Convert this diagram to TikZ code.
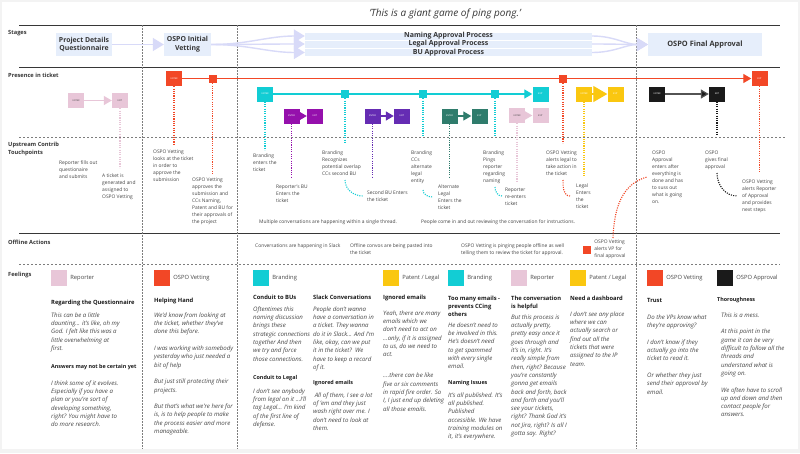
\documentclass[tikz,border=0pt]{standalone}
\usepackage{fontspec}
\setmainfont{Open Sans}
\usepackage{tikz}
\usetikzlibrary{arrows.meta,positioning,calc}
\definecolor{repPink}{RGB}{232,198,216}
\definecolor{vetRed}{RGB}{242,71,38}
\definecolor{brTeal}{RGB}{18,205,212}
\definecolor{buMagenta}{RGB}{149,16,172}
\definecolor{buViolet}{RGB}{101,44,179}
\definecolor{lgGreen}{RGB}{47,124,108}
\definecolor{patYellow}{RGB}{250,199,16}
\definecolor{apBlack}{RGB}{26,26,26}
\definecolor{stageBlue}{RGB}{230,238,251}
\definecolor{stageArrow}{RGB}{216,218,248}
\definecolor{gridGray}{RGB}{125,125,125}
\definecolor{lineDark}{RGB}{55,55,55}
\definecolor{txtGray}{RGB}{70,70,70}
\definecolor{pageGray}{RGB}{243,243,243}

\begin{document}
\begin{tikzpicture}[x=1pt,y=-1pt,
        every node/.style={inner sep=0pt},
        rowlabel/.style={anchor=west, align=left, font=\fontsize{5.7}{7.5}\selectfont\bfseries, text=lineDark},
        stagebox/.style={fill=stageBlue, minimum height=23pt, align=center, font=\fontsize{6.9}{8.6}\selectfont\bfseries, text=lineDark},
        stagebar/.style={fill=stageBlue, minimum height=6.5pt, font=\fontsize{7}{7}\selectfont\bfseries, text=lineDark},
        stagearrow/.style={-{Triangle[length=11pt,width=13pt]}, stageArrow, line width=1.4pt},
        gridsolid/.style={lineDark, line width=1pt},
        griddash/.style={gridGray, line width=0.7pt, dash pattern=on 2pt off 2pt},
        pbox/.style={fill=#1, minimum width=16pt, minimum height=15pt, text=white, font=\fontsize{2.3}{3}\selectfont},
        psq/.style={fill=#1, minimum size=8pt},
        pline/.style={#1, line width=1.2pt, -{Triangle[length=8pt,width=9pt]}},
        drop/.style={#1, line width=1.1pt, dash pattern=on 1.1pt off 1.2pt},
        touch/.style={anchor=north west, align=left, font=\fontsize{4.9}{7}\selectfont, text=txtGray},
        swatch/.style={fill=#1, minimum size=16pt},
        swlabel/.style={font=\fontsize{5.8}{7}\selectfont, text=txtGray},
        fhead/.style={anchor=north west, align=left, font=\fontsize{5.8}{8.3}\selectfont\bfseries, text=apBlack},
        fsub/.style={anchor=north west, font=\fontsize{5.4}{6}\selectfont\bfseries, text=apBlack},
        fbody/.style={anchor=north west, align=left, font=\fontsize{6.1}{8.3}\selectfont\itshape, text=txtGray}
    ]
        % page
        \useasboundingbox (0,0) rectangle (800,453);
        \fill[pageGray] (0,0) rectangle (800,453);
        \fill[white] (1.5,1.5) rectangle (797.5,449);

        \node[font=\fontsize{10}{12}\selectfont\itshape, text=lineDark] (title) at (445,14) {'This is a giant game of ping pong.'};

        % grid
        \draw[gridsolid] (19,25) -- (780,25);
        \draw[gridsolid] (19,67) -- (780,67);
        \draw[griddash] (19,137) -- (785,137);
        \draw[gridsolid] (19,233) -- (780,233);
        \draw[griddash] (19,264) -- (780,264);
        \foreach \gx in {142,237,636}
            \draw[griddash, dash pattern=on 1.5pt off 1.5pt] (\gx,25) -- (\gx,449);

        \node[rowlabel] (lStages) at (8,33) {Stages};
        \node[rowlabel] (lPresence) at (8,75) {Presence in ticket};
        \node[rowlabel] (lTouch) at (8,149) {Upstream Contrib\\Touchpoints};
        \node[rowlabel] (lOffline) at (8,242) {Offline Actions};
        \node[rowlabel] (lFeel) at (8,275) {Feelings};

        % stages
        \node[stagebox, minimum width=56pt] (qst) at (84,44.5) {Project Details\\Questionnaire};
        \node[stagebox, minimum width=47pt] (ivet) at (187.5,44.5) {OSPO Initial\\Vetting};
        \node[stagebar, minimum width=287pt] (nap) at (448.5,36) {Naming Approval Process};
        \node[stagebar, minimum width=287pt] (lap) at (448.5,44) {Legal Approval Process};
        \node[stagebar, minimum width=287pt] (bap) at (448.5,52.5) {BU Approval Process};
        \node[stagebox, minimum width=114pt, font=\fontsize{7.4}{9}\selectfont\bfseries] (fin) at (705,44.5) {OSPO Final Approval};

        \draw[stagearrow] (qst) -- (ivet);
        \foreach \bar in {nap,lap,bap} {
            \draw[stagearrow] (ivet.east) to[out=0,in=180] (\bar.west);
            \draw[stagearrow] (\bar.east) to[out=0,in=180] (fin.west);
        }

        % presence in ticket
        \node[pbox=repPink, text=txtGray] (pEn1) at (76,100.5) {ENTER};
        \node[pbox=repPink, text=txtGray] (pEx1) at (120,100.5) {EXIT};
        \node[pbox=vetRed] (vEn) at (174,78.5) {ENTER};
        \node[pbox=vetRed] (vEx) at (759.5,78.5) {EXIT};
        \node[pbox=brTeal] (bEn) at (265,94) {ENTER};
        \node[pbox=brTeal] (bEx) at (540.5,94) {EXIT};
        \node[pbox=buMagenta] (mEn) at (291.5,116) {ENTER};
        \node[pbox=buMagenta] (mEx) at (315,116) {EXIT};
        \node[pbox=buViolet] (uEn) at (372.5,116) {ENTER};
        \node[pbox=buViolet] (uEx) at (402,116) {EXIT};
        \node[pbox=lgGreen] (gEn) at (449.5,116) {ENTER};
        \node[pbox=lgGreen] (gEx) at (479.5,116) {EXIT};
        \node[pbox=repPink, text=txtGray] (pEn2) at (517,115.5) {ENTER};
        \node[pbox=repPink, text=txtGray] (pEx2) at (540.5,115.5) {EXIT};
        \node[pbox=patYellow] (yEn) at (584,94) {ENTER};
        \node[pbox=patYellow] (yEx) at (615.5,94) {EXIT};
        \node[pbox=apBlack] (kEn) at (657,94) {ENTER};
        \node[pbox=apBlack] (kEx) at (717,94) {EXIT};

        \draw[pline=vetRed] (vEn) -- (vEx);
        \draw[pline=brTeal] (bEn) -- (bEx);
        \draw[pline=repPink] (pEn1) -- (pEx1);
        \draw[pline=buMagenta] (mEn) -- (mEx);
        \draw[pline=buViolet] (uEn) -- (uEx);
        \draw[pline=lgGreen] (gEn) -- (gEx);
        \draw[pline=repPink] (pEn2) -- (pEx2);
        \draw[pline=patYellow, -{Triangle[length=14pt,width=16pt]}] (yEn) -- (yEx);
        \draw[pline=apBlack!75, -{Triangle[length=8pt,width=9pt,fill=apBlack]}] (kEn) -- (kEx);

        \node[psq=vetRed] (vSq1) at (212.5,79) {};
        \node[psq=vetRed] (vSq2) at (563,79) {};
        \node[psq=brTeal] (bSq1) at (345,94) {};
        \node[psq=brTeal] (bSq2) at (423,94) {};
        \node[psq=brTeal] (bSq3) at (495,94) {};

        % drop lines
        \coordinate (dPink1) at (120,168);
        \coordinate (dVet1) at (174,144);
        \coordinate (dVet2) at (212.5,173);
        \coordinate (dBr1) at (265,150);
        \coordinate (dMag) at (291.5,178);
        \coordinate (dBr2) at (345,142);
        \coordinate (dVio) at (372.5,178);
        \coordinate (dBr3) at (423,137);
        \coordinate (dGrn) at (449.5,178);
        \coordinate (dBr4) at (495,137);
        \coordinate (dPink2) at (517,182);
        \coordinate (dVet3) at (563,143);
        \coordinate (dYel) at (584,177);
        \coordinate (dApp) at (717,135);
        \coordinate (dVet4) at (759.5,173);
        \draw[drop=repPink] (pEx1) -- (dPink1);
        \draw[drop=vetRed] (vEn) -- (dVet1);
        \draw[drop=vetRed] (vSq1) -- (dVet2);
        \draw[drop=brTeal] (bEn) -- (dBr1);
        \draw[drop=buMagenta] (mEn) -- (dMag);
        \draw[drop=brTeal] (bSq1) -- (dBr2);
        \draw[drop=buViolet] (uEn) -- (dVio);
        \draw[drop=brTeal] (bSq2) -- (dBr3);
        \draw[drop=lgGreen] (gEn) -- (dGrn);
        \draw[drop=brTeal] (bSq3) -- (dBr4);
        \draw[drop=repPink] (pEn2) -- (dPink2);
        \draw[drop=vetRed] (vSq2) -- (dVet3);
        \draw[drop=patYellow] (yEn) -- (dYel);
        \draw[drop=apBlack] (kEx) -- (dApp);
        \draw[drop=vetRed] (vEx) -- (dVet4);

        % hand-off curves
        \coordinate (cBr2a) at (345,180);
        \coordinate (cBr2b) at (363,196);
        \coordinate (cBr3a) at (423,190);
        \coordinate (cBr3b) at (433,197);
        \coordinate (cBr4a) at (495,187);
        \coordinate (cBr4b) at (502,196);
        \coordinate (cVet3a) at (563,180);
        \coordinate (cVet3b) at (570,196);
        \coordinate (cAppa) at (717,173);
        \coordinate (cAppb) at (737,196);
        \coordinate (cVpa) at (613,238);
        \coordinate (cVpb) at (647,177);
        \draw[drop=brTeal] (cBr2a) to[out=-90,in=180] (cBr2b);
        \draw[drop=brTeal] (cBr3a) to[out=-90,in=180] (cBr3b);
        \draw[drop=brTeal] (cBr4a) to[out=-90,in=180] (cBr4b);
        \draw[drop=vetRed] (cVet3a) to[out=-90,in=180] (cVet3b);
        \draw[drop=apBlack] (cAppa) to[out=-90,in=180] (cAppb);
        \draw[drop=vetRed] (cVpa) to[out=88,in=195] (cVpb);

        % touchpoints
        \node[touch] (tRep1) at (59,161) {Reporter fills out\\questionaire\\and submits};
        \node[touch] (tTicket) at (102,174) {A ticket is\\generated and\\assigned to\\OSPO Vetting};
        \node[touch] (tVetLook) at (153,150) {OSPO Vetting\\looks at the ticket\\in order to\\approve the\\submission};
        \node[touch] (tVetOk) at (192,178) {OSPO Vetting\\approves the\\submission and\\CCs Naming,\\Patent and BU for\\their approvals of\\the project};
        \node[touch] (tBrEnter) at (253,154) {Branding\\enters the\\ticket};
        \node[touch] (tRepBU) at (276,185) {Reporter's BU\\Enters the\\ticket};
        \node[touch] (tBrRecog) at (322,151) {Branding\\Recognizes\\potential overlap\\CCs second BU};
        \node[touch] (tSecBU) at (367,191) {Second BU Enters\\the ticket};
        \node[touch] (tBrCC) at (411,151) {Branding\\CCs\\alternate\\legal\\entity};
        \node[touch] (tAltLegal) at (438,185) {Alternate\\Legal\\Enters the\\ticket};
        \node[touch] (tBrPing) at (483,151) {Branding\\Pings\\reporter\\regarding\\naming};
        \node[touch] (tRepRe) at (505,188) {Reporter\\re-enters\\ticket};
        \node[touch] (tVetLegal) at (546,151) {OSPO Vetting\\alerts legal to\\take action in\\the ticket};
        \node[touch] (tLegal) at (576,184) {Legal\\Enters\\the\\ticket};
        \node[touch] (tAppEnter) at (652,151) {OSPO\\Approval\\enters after\\everything is\\done and has\\to suss out\\what is going\\on.};
        \node[touch] (tAppGive) at (705,151) {OSPO\\gives final\\approval};
        \node[touch] (tVetRep) at (742,180) {OSPO Vetting\\alerts Reporter\\of Approval\\and provides\\next steps};
        \node[touch] (tMulti) at (259,220) {Multiple conversations are happening within a single thread.};
        \node[touch] (tPeople) at (421,220) {People come in and out reviewing the conversation for instructions.};

        % offline actions
        \node[touch] (oSlack) at (255,244) {Conversations are happening in Slack};
        \node[touch] (oPaste) at (350,244) {Offline convos are being pasted into\\the ticket};
        \node[touch] (oPing) at (461,244) {OSPO Vetting is pinging people offline as well\\telling them to review the ticket for approval.};
        \node[psq=vetRed] (vpSq) at (587,249.5) {};
        \node[touch, right=3pt of vpSq] (oVP) {OSPO Vetting\\alerts VP for\\final approval};

        % feelings
        \node[swatch=repPink] (sRep1) at (59,278) {};
        \node[swlabel, right=3pt of sRep1] {Reporter};
        \node[fhead] (hRep1) at (51,299.5) {Regarding the Questionnaire};
        \node[fbody] (fRep1a) at (51,312.5) {This can be a little\\daunting... it's like, oh my\\God. I felt like this was a\\little overwhelming at\\first.};
        \node[fsub] (hRep1b) at (51,364.5) {Answers may not be certain yet};
        \node[fbody] (fRep1b) at (51,380.5) {I think some of it evolves.\\Especially if you have a\\plan or you're sort of\\developing something,\\right? You might have to\\do more research.};

        \node[swatch=vetRed] (sVet1) at (162,278) {};
        \node[swlabel, right=3pt of sVet1] {OSPO Vetting};
        \node[fhead] (hVet1) at (154,297.5) {Helping Hand};
        \node[fbody] (fVet1) at (154,312.5) {We'd know from looking at\\the ticket, whether they've\\done this before.\\[8.3pt]I was working with somebody\\yesterday who just needed a\\bit of help\\[8.3pt]But just still protecting their\\projects.\\[8.3pt]But that's what we're here for\\is, is to help people to make\\the process easier and more\\manageable.};

        \node[swatch=brTeal] (sBr1) at (261,278) {};
        \node[swlabel, right=3pt of sBr1] {Branding};
        \node[fhead] (hBr1) at (253,294.5) {Conduit to BUs};
        \node[fbody] (fBr1a) at (253,306.5) {Oftentimes this\\naming discussion\\brings these\\strategic connections\\together And then\\we try and force\\those connections.};
        \node[fsub] (hBr1b) at (253,375.5) {Conduit to Legal};
        \node[fbody] (fBr1b) at (253,388.5) {I don't see anybody\\from legal on it ...I'll\\tag Legal... I'm kind\\of the first line of\\defense.};

        \node[fhead] (hBr2) at (313,294.5) {Slack Conversations};
        \node[fbody] (fBr2a) at (313,306.5) {People don't wanna\\have a conversation in\\a ticket. They wanna\\do it in Slack... And I'm\\like, okay, can we put\\it in the ticket?\ \ We\\have to keep a record\\of it.};
        \node[fsub] (hBr2b) at (313,380.5) {Ignored emails};
        \node[fbody] (fBr2b) at (313,392.5) {\ All of them, I see a lot\\of 'em and they just\\wash right over me. I\\don't need to look at\\them.};

        \node[swatch=patYellow] (sPat1) at (391,278) {};
        \node[swlabel, right=3pt of sPat1] {Patent / Legal};
        \node[fhead] (hPat1) at (383,294.5) {Ignored emails};
        \node[fbody] (fPat1) at (383,310.5) {Yeah, there are many\\emails which we\\don't need to act on\\...only, if it is assigned\\to us, do we need to\\act.\\[12.7pt]....there can be like\\five or six comments\\in rapid fire order. So\\I, I just end up deleting\\all those emails.};

        \node[swatch=brTeal] (sBr2) at (456,278) {};
        \node[swlabel, right=3pt of sBr2] {Branding};
        \node[fhead] (hBr3) at (448,295.5) {Too many emails -\\prevents CCing\\others};
        \node[fbody] (fBr3a) at (448,322.5) {He doesn't need to\\be involved in this.\\He's doesn't need\\to get spammed\\with every single\\email.};
        \node[fsub] (hBr3b) at (448,380.5) {Naming Issues};
        \node[fbody] (fBr3b) at (448,392.5) {It's all published. It's\\all published.\\Published\\accessible. We have\\training modules on\\it, it's everywhere.};

        \node[swatch=repPink] (sRep2) at (519,278) {};
        \node[swlabel, right=3pt of sRep2] {Reporter};
        \node[fhead] (hRep2) at (511,295.5) {The conversation\\is helpful};
        \node[fbody] (fRep2) at (511,314.5) {But this process is\\actually pretty,\\pretty easy once it\\goes through and\\it's in, right. It's\\really simple from\\then, right? Because\\you're constantly\\gonna get emails\\back and forth, back\\and forth and you'll\\see your tickets,\\right? Thank God it's\\not Jira, right? Is all I\\gotta say. Right?};

        \node[swatch=patYellow] (sPat2) at (578,278) {};
        \node[swlabel, right=3pt of sPat2] {Patent / Legal};
        \node[fhead] (hPat2) at (570,295.5) {Need a dashboard};
        \node[fbody] (fPat2) at (570,311.5) {I don't see any place\\where we can\\actually search or\\find out all the\\tickets that were\\assigned to the IP\\team.};

        \node[swatch=vetRed] (sVet2) at (655,278) {};
        \node[swlabel, right=3pt of sVet2] {OSPO Vetting};
        \node[fhead] (hVet2) at (647,298.5) {Trust};
        \node[fbody] (fVet2) at (647,314.5) {Do the VPs know what\\they're approving?\\[8.3pt]I don't know if they\\actually go into the\\ticket to read it.\\[8.3pt]Or whether they just\\send their approval by\\email.};

        \node[swatch=apBlack] (sApp) at (725,278) {};
        \node[swlabel, right=3pt of sApp] {OSPO Approval};
        \node[fsub] (hApp) at (717,297.5) {Thoroughness};
        \node[fbody] (fApp) at (721,312.5) {This is a mess.\\[8.3pt]At this point in the\\game it can be very\\difficult to follow all the\\threads and\\understand what is\\going on.\\[8.3pt]We often have to scroll\\up and down and then\\contact people for\\answers.};
    \end{tikzpicture}
\end{document}
